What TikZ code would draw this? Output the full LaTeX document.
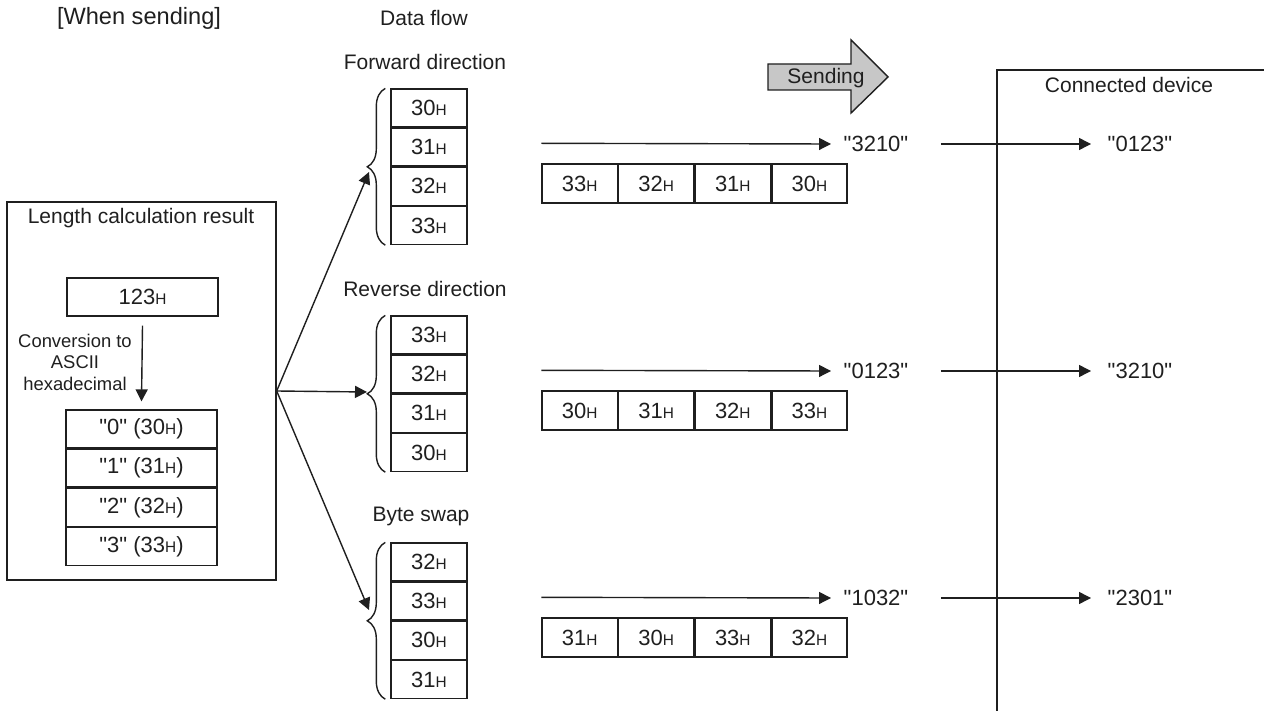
\documentclass[tikz,border=0pt]{standalone}
\usepackage{fontspec}
\setmainfont{Liberation Sans}[Ligatures=TeXOff]
\usetikzlibrary{arrows.meta, positioning, decorations.pathreplacing}
\newcommand{\hx}{{\fontsize{7.7}{9}\selectfont H}}

\begin{document}
\begin{tikzpicture}[x=0.5pt, y=-0.5pt, line width=0.7pt, color=black!88]
    % Node styles for clarity
    \tikzstyle{cell} = [rectangle, draw, minimum width=38pt, minimum height=18.9pt, inner sep=0pt, font=\fontsize{11}{13}\selectfont]
    \tikzstyle{bytecell} = [cell, minimum width=37.6pt, minimum height=19.5pt]
    \tikzstyle{asciicell} = [cell, minimum width=75.5pt]
    \tikzstyle{caption} = [inner sep=0pt, font=\fontsize{10.5}{12}\selectfont]
    \tikzstyle{quoted} = [inner sep=0pt, font=\fontsize{11}{13}\selectfont]
    \tikzstyle{flowarrow} = [-{Triangle[length=6pt, width=6pt]}]
    \tikzstyle{stackbrace} = [decorate, decoration={brace, amplitude=9pt}]
    \useasboundingbox (0,0) rectangle (1264,711);

    % Titles
    \node (when) [caption, font=\fontsize{11.8}{14}\selectfont] at (139,18) {[When sending]};
    \node (flow) [caption] at (424,18) {Data flow};

    % Length calculation result
    \node (lenbox) [rectangle, draw, minimum width=134.5pt, minimum height=189pt] at (141.5,391) {};
    \node (lentitle) [caption] at (141,218) {Length calculation result};
    \node (val) [asciicell, minimum height=19pt] at (142.5,297) {123\hx};
    \node (a0) [asciicell] at (141.5,429) {"0" (30\hx)};
    \node (a1) [asciicell, below=0pt of a0] {"1" (31\hx)};
    \node (a2) [asciicell, below=0pt of a1] {"2" (32\hx)};
    \node (a3) [asciicell, below=0pt of a2] {"3" (33\hx)};
    \node (conv) [caption, font=\fontsize{9.2}{10.75}\selectfont, align=center] at (75,362) {Conversion to\\ASCII\\hexadecimal};
    \draw[flowarrow] ([yshift=-4.5pt]val.south) -- ([yshift=4pt]a0.north);

    % Forward direction
    \node (fwd) [caption] at (425,62) {Forward direction};
    \node (f1) [cell] at (429,108) {30\hx};
    \node (f2) [cell, below=0pt of f1] {31\hx};
    \node (f3) [cell, below=0pt of f2] {32\hx};
    \node (f4) [cell, below=0pt of f3] {33\hx};
    \draw[stackbrace] ([xshift=-2.5pt]f4.south west) -- ([xshift=-2.5pt]f1.north west);
    \node (fb1) [bytecell] at (579.6,183.5) {33\hx};
    \node (fb2) [bytecell, right=0pt of fb1] {32\hx};
    \node (fb3) [bytecell, right=0pt of fb2] {31\hx};
    \node (fb4) [bytecell, right=0pt of fb3] {30\hx};
    \node (fs) [quoted] at (876,144) {"3210"};
    \node (fd) [quoted] at (1140,144) {"0123"};

    % Reverse direction
    \node (rev) [caption] at (425,289) {Reverse direction};
    \node (r1) [cell] at (429,335) {33\hx};
    \node (r2) [cell, below=0pt of r1] {32\hx};
    \node (r3) [cell, below=0pt of r2] {31\hx};
    \node (r4) [cell, below=0pt of r3] {30\hx};
    \draw[stackbrace] ([xshift=-2.5pt]r4.south west) -- ([xshift=-2.5pt]r1.north west);
    \node (rb1) [bytecell] at (579.6,410.5) {30\hx};
    \node (rb2) [bytecell, right=0pt of rb1] {31\hx};
    \node (rb3) [bytecell, right=0pt of rb2] {32\hx};
    \node (rb4) [bytecell, right=0pt of rb3] {33\hx};
    \node (rs) [quoted] at (876,371) {"0123"};
    \node (rd) [quoted] at (1140,371) {"3210"};

    % Byte swap
    \node (swap) [caption] at (421,516) {Byte swap};
    \node (s1) [cell] at (429,562) {32\hx};
    \node (s2) [cell, below=0pt of s1] {33\hx};
    \node (s3) [cell, below=0pt of s2] {30\hx};
    \node (s4) [cell, below=0pt of s3] {31\hx};
    \draw[stackbrace] ([xshift=-2.5pt]s4.south west) -- ([xshift=-2.5pt]s1.north west);
    \node (sb1) [bytecell] at (579.6,637.5) {31\hx};
    \node (sb2) [bytecell, right=0pt of sb1] {30\hx};
    \node (sb3) [bytecell, right=0pt of sb2] {33\hx};
    \node (sb4) [bytecell, right=0pt of sb3] {32\hx};
    \node (ss) [quoted] at (876,598) {"1032"};
    \node (sd) [quoted] at (1140,598) {"2301"};

    % Sending arrow and connected device
    \draw[fill=black!22] (768,64) -- (851,64) -- (851,40) -- (888,77) -- (851,113) -- (851,90) -- (768,90) -- cycle;
    \node (send) [caption] at (826,78) {Sending};
    \draw (1264,70) -- (997,70) -- (997,711);
    \node (dev) [caption] at (1129,85) {Connected device};

    % Arrows
    \coordinate (fwdtip) at (369,172);
    \coordinate (revtip) at (367,392);
    \coordinate (swaptip) at (369,610);
    \draw[flowarrow] (lenbox.east) -- (fwdtip);
    \draw[flowarrow] (lenbox.east) -- (revtip);
    \draw[flowarrow] (lenbox.east) -- (swaptip);
    \draw[flowarrow] ([yshift=10pt]fb1.north west) -- ([xshift=-6pt]fs.west);
    \draw[flowarrow] ([xshift=16pt]fs.east) -- ([xshift=-8pt]fd.west);
    \draw[flowarrow] ([yshift=10pt]rb1.north west) -- ([xshift=-6pt]rs.west);
    \draw[flowarrow] ([xshift=16pt]rs.east) -- ([xshift=-8pt]rd.west);
    \draw[flowarrow] ([yshift=10pt]sb1.north west) -- ([xshift=-6pt]ss.west);
    \draw[flowarrow] ([xshift=16pt]ss.east) -- ([xshift=-8pt]sd.west);
\end{tikzpicture}
\end{document}
